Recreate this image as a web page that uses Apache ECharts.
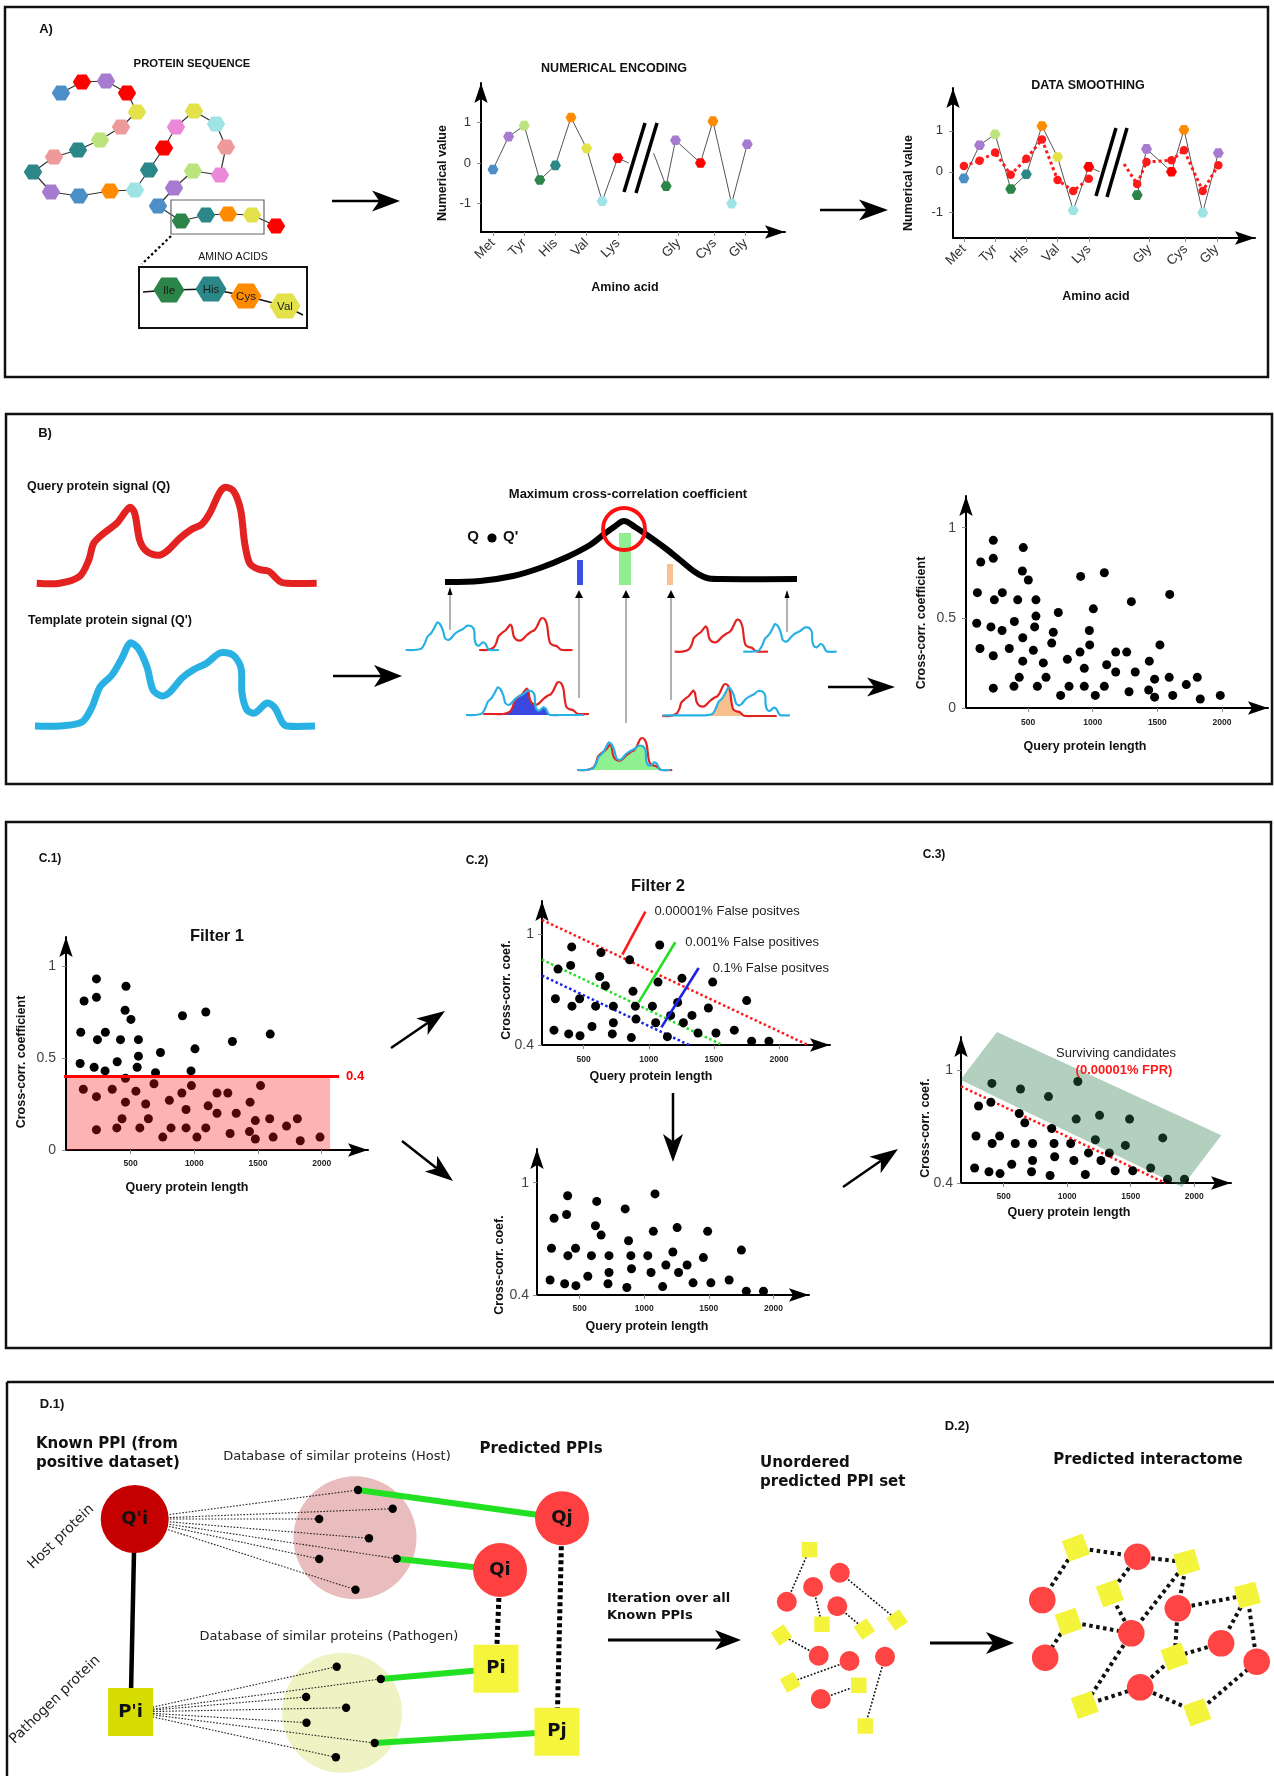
<!DOCTYPE html>
<html>
<head>
<meta charset="utf-8">
<title>Host-pathogen PPI prediction workflow</title>
<script src="https://cdn.jsdelivr.net/npm/echarts@6/dist/echarts.min.js"></script>
<style>
html,body{margin:0;padding:0;background:#fff;}
#chart{width:1274px;height:1776px;}
</style>
</head>
<body>
<div id="chart"></div>
<script>
const FONT = '"Liberation Sans", Arial, Helvetica, sans-serif';
const DJV = '"DejaVu Sans", Verdana, sans-serif';

// ---------- A) residues ----------
const RES_COLOR = {Met:'#4b8fc6', Gly:'#a67bd0', Tyr:'#bde37c', Ile:'#2b8548', His:'#2c8888', Cys:'#ff8c00',
  Val:'#e3e24a', Thr:'#9fe4e4', Lys:'#ff0000', Ala:'#ee9a9a', Pro:'#ec88d8'};
const chainRes = ['Met','Lys','Gly','Lys','Val','Ala','Tyr','His','Ala','His','Gly','Met','Cys','Thr','His',
  'Lys','Pro','Val','Thr','Ala','Pro','Tyr','Gly','Met','Ile','His','Cys','Val','Lys'];
const chainXY = [[61,93],[82,82],[106,81],[127,93],[137,112],[121,127],[100,140],[78,150],[54,157],[33,172],
  [51,192],[79,196],[110,191],[135,190],[149,170],[164,148],[176,127],[194,111],[216,124],[226,147],[220,175],
  [193,171],[174,188],[158,206],[181,221],[206,215],[228,214],[252,215],[276,226]];
const insetRes = ['Ile','His','Cys','Val'];
const insetXY = [[169,290],[211,289],[246,296],[285,306]];

// ---------- A) encoded and smoothed signal ----------
const seqPosA = [0,1,2,3,4,5,6,7,8];
const seqPosB = [11.1,11.7,13.3,14.1,15.3,16.3];
const residuesA = ['Met','Gly','Tyr','Ile','His','Cys','Val','Thr','Lys'];
const residuesB = ['Ile','Gly','Lys','Cys','Thr','Gly'];
const encodedA = [-0.16,0.65,0.92,-0.42,-0.06,1.12,0.36,-0.94,0.12];
const encodedB = [-0.57,0.56,0.0,1.03,-1.0,0.46];
const smoothedA = [0.14,0.27,0.47,-0.07,0.32,0.79,-0.2,-0.47,-0.17];
const smoothedB = [-0.3,0.24,0.28,0.53,-0.47,0.16];
const encStubs = [[8.7,0.0],[10.3,0.24]];
const smoothStub = [10.26,0.19];
const residueTickPos = [0,2,4,6,8,11.9,14.2,16.2];
const residueTickNames = ['Met','Tyr','His','Val','Lys','Gly','Cys','Gly'];
const encYTicks = [-1,0,1];

// ---------- B) signal outlines: [offset along sequence, height] ----------
const querySignal = [[0,0],[23,0],[43,7],[52,23],[57,40],[67,50],[80,60],[93,76],[98,70],[103,43],[110,32],
  [122,28],[130,32],[143,45],[155,54],[165,59],[173,70],[183,91],[189,96],[197,92],[204,73],[208,40],[213,20],
  [222,14],[232,12],[243,2],[250,0],[280,0]];
const templateSignal = [[0,0],[25,0],[47,4],[57,19],[65,39],[77,51],[87,68],[95,83],[103,78],[112,59],[118,36],
  [127,30],[135,34],[147,48],[158,56],[172,63],[185,73],[198,71],[206,58],[207,33],[212,16],[220,13],[232,23],
  [240,18],[247,4],[252,0],[280,0]];
const xcorrCurve = [[445,582],[480,581],[513,576],[540,568],[567,557],[590,545],[603,535],[614,527],[624,521],
  [635,527],[647,535],[665,548],[680,560],[695,572],[707,578],[720,579],[797,579]];

// ---------- B / C.1) all query proteins ----------
const lengthAll = [108,134,231,231,463,456,502,301,239,420,561,734,561,103,213,299,394,551,459,695,128,231,355,541,
  683,618,459,432,639,231,391,572,752,817,804,902,935,935,1020,977,974,1005,907,1090,1090,1108,1178,1178,1263,1329,
  1281,1299,1438,1479,1433,1479,1520,1596,1592,1619,1724,1809,1832,1987];
const ccAll = [0.64,0.81,0.93,0.83,0.89,0.76,0.71,0.64,0.60,0.60,0.60,0.53,0.51,0.47,0.45,0.43,0.48,0.45,0.39,0.42,
  0.33,0.29,0.33,0.32,0.36,0.25,0.26,0.17,0.17,0.11,0.12,0.12,0.07,0.12,0.27,0.31,0.22,0.12,0.07,0.35,0.43,0.55,
  0.73,0.75,0.12,0.24,0.31,0.20,0.31,0.20,0.09,0.59,0.26,0.16,0.10,0.06,0.35,0.63,0.17,0.07,0.13,0.17,0.05,0.07];
const filter1 = 0.4;
const filter1AreaEnd = 2066;
const filter1LineSpan = [-220, 2137];

// ---------- C.2 / C.3) proteins passing filter 1 ----------
const lengthPass = [408,633,303,400,853,1084,623,667,879,1071,1255,1491,283,469,410,592,728,897,1028,1222,1458,
  1752,1168,1332,902,728,1053,1266,272,385,472,564,720,866,1143,1378,1516,1657,1790,1923];
const ccPass = [0.93,0.90,0.81,0.83,0.86,0.94,0.77,0.72,0.69,0.74,0.76,0.74,0.65,0.65,0.61,0.61,0.61,0.61,0.61,0.63,
  0.60,0.64,0.56,0.56,0.54,0.52,0.52,0.52,0.48,0.46,0.45,0.50,0.46,0.44,0.445,0.465,0.465,0.48,0.42,0.42];
const fprNames = ['0.00001% False positves','0.001% False positives','0.1% False positves'];
const fprColors = ['#ff1a1a','#22e022','#1a22e6'];
const fprLines = [[[180,1.076],[2223,0.4]], [[180,0.861],[1565,0.4]], [[180,0.775],[1309,0.4]]];
const fprPointers = [[[797,0.888],[974,1.12]], [[922,0.63],[1204,0.955]], [[1097,0.495],[1383,0.816]]];
const fprLabelGap = [9, 10, 14];
const survivorLine = [[165,0.914],[1773,0.4]];
const survivorBand = [[160,0.95],[448,1.203],[2213,0.654],[1904,0.379]];

// ---------- D) networks ----------
const hostDbDots = [[358,1490],[392.7,1508.7],[319.2,1519],[369,1538.3],[319.2,1559],[396.7,1558.7],[355.5,1589.7]];
const pathDbDots = [[336.7,1666.7],[380.8,1679],[306.1,1697],[346.1,1707.7],[306.5,1722.7],[374.7,1743],[335.9,1757.3]];
const knownHost = {x:134.7, y:1519, r:34, label:"Q'i"};
const knownPath = {x:130.6, y:1712, w:45, h:48, label:"P'i"};
const predHost = [{x:562, y:1518.3, label:'Qj'}, {x:500, y:1570, label:'Qi'}];
const predPath = [{x:496, y:1668.7, label:'Pi'}, {x:557, y:1731.7, label:'Pj'}];
const greenLinks = [[hostDbDots[0], 0, 'h'], [hostDbDots[5], 1, 'h'], [pathDbDots[1], 0, 'p'], [pathDbDots[5], 1, 'p']];

const setCircles = [[786.8,1601.7],[813.1,1587],[839.8,1572.7],[837.3,1606.3],[818.7,1655.7],[849.5,1661],[885,1656.7],[820.8,1699]];
const setSquares = [[809.4,1549.7,0],[822,1624.3,0],[864.4,1629,0.6],[897.2,1620,0.6],[781.5,1635,0.6],[790.4,1682.3,0.5],[858.8,1685.3,0],[865.2,1726,0]];
const setEdges = [[0,0],[1,1],[2,3],[3,2],[4,4],[5,5],[7,6],[6,7]]; // [circle, square]

const netCircles = [[1042.3,1600],[1045.2,1657.7],[1137.4,1556.7],[1131.3,1633.3],[1177.8,1608.3],[1221.1,1643.3],[1140.2,1687.3],[1256.7,1661.7]];
const netSquares = [[1075.9,1547.7,0.35],[1186.7,1562.3,0.28],[1109.9,1593.3,0.35],[1068.6,1621.7,0.33],[1247.4,1595,0.27],[1174.6,1656.7,0.35],[1084.8,1705,0.33],[1197.2,1712.3,0.35]];
const netEdges = [['S',0,'C',2],['S',0,'C',0],['C',2,'S',1],['C',2,'S',2],['S',2,'C',3],['S',1,'C',3],['S',1,'C',4],
  ['C',4,'S',4],['C',4,'S',5],['S',4,'C',5],['S',4,'C',7],['C',5,'S',5],['S',3,'C',1],['S',3,'C',3],['C',3,'S',6],
  ['S',5,'C',6],['S',6,'C',6],['C',6,'S',7],['S',7,'C',7]];

// ================= drawing helpers =================
const G = [];
function line(x1,y1,x2,y2,color,w,dash,cap){ G.push({type:'line', silent:true, shape:{x1,y1,x2,y2}, style:{stroke:color, lineWidth:w, lineDash:dash||null, lineCap:cap||'butt', fill:'none'}}); }
function poly(points, fill, z){ G.push({type:'polygon', silent:true, z:z||0, shape:{points}, style:{fill, stroke:'none'}}); }
function pline(points, color, w, smooth){ G.push({type:'polyline', silent:true, shape:{points, smooth:smooth||0}, style:{stroke:color, lineWidth:w, fill:'none', lineJoin:'round'}}); }
function circ(cx,cy,r,fill,stroke,lw){ G.push({type:'circle', silent:true, shape:{cx,cy,r}, style:{fill:fill||'none', stroke:stroke||'none', lineWidth:lw||0}}); }
function box(x,y,w,h,fill,stroke,lw){ G.push({type:'rect', silent:true, shape:{x,y,width:w,height:h}, style:{fill:fill||'none', stroke:stroke||'none', lineWidth:lw||0}}); }
function sq(cx,cy,s,rot,fill){ G.push({type:'rect', silent:true, x:cx, y:cy, rotation:rot, shape:{x:-s/2,y:-s/2,width:s,height:s}, style:{fill}}); }
function txt(x,y,str,size,o){
  o = o||{};
  const al = o.align||'center';
  G.push({type:'text', silent:true, z:100, x, y, rotation:o.rot||0,
    style:{text:str, x:0, y:0, fill:o.color||'#111', font:(o.bold?'bold ':'')+size+'px '+(o.family||FONT),
      textAlign:al, align:al, textVerticalAlign:'middle', verticalAlign:'middle'}});
}
function arrow(x1,y1,x2,y2,hl,hw,lw){
  const a = Math.atan2(y2-y1, x2-x1), c = Math.cos(a), s = Math.sin(a);
  const bx = x2-hl*c, by = y2-hl*s, nx = x2-hl*0.74*c, ny = y2-hl*0.74*s;
  line(x1,y1,nx,ny,'#000',lw);
  poly([[x2,y2],[bx-hw/2*s, by+hw/2*c],[nx,ny],[bx+hw/2*s, by-hw/2*c]], '#000');
}
function hexPts(cx,cy,r){ const p=[]; for(let k=0;k<6;k++){ const a=Math.PI/3*k; p.push([cx+r*Math.cos(a), cy+r*Math.sin(a)*0.93]); } return p; }
function placeSignal(sig, ox, base, s, from, to){
  const pts = sig.map(([dx,h]) => [ox+dx*s, base-h*s]);
  if (from != null) pts.unshift([from, base]);
  if (to != null) pts.push([to, base]);
  return pts;
}
function interpY(pts, x, base){
  if (x <= pts[0][0] || x >= pts[pts.length-1][0]) return base;
  for (let i=1;i<pts.length;i++){
    if (x <= pts[i][0]) { const [x0,y0]=pts[i-1], [x1,y1]=pts[i]; return x1===x0 ? y1 : y0+(y1-y0)*(x-x0)/(x1-x0); }
  }
  return base;
}
function overlapFill(a, b, base){
  const x0 = Math.max(a[0][0], b[0][0]), x1 = Math.min(a[a.length-1][0], b[b.length-1][0]);
  const pts = [];
  for (let x=x0; x<=x1; x+=0.5) pts.push([x, Math.min(base, Math.max(interpY(a,x,base), interpY(b,x,base)))]);
  pts.push([x1,base],[x0,base]);
  return pts;
}

// ================= panel frames =================
box(5,7,1263,370,'none','#111',2.5);
box(6,414,1266,370,'none','#111',2.5);
box(6,822,1265,526,'none','#111',2.5);
line(7,1382,1274,1382,'#111',2.5);
line(7,1382,7,1776,'#111',2.5);

// ================= A) protein sequence =================
txt(46,29,'A)',13,{bold:true});
txt(192,64,'PROTEIN SEQUENCE',11.3,{bold:true});
pline(chainXY,'#333',1.2);
chainXY.forEach((p,i)=>poly(hexPts(p[0],p[1],9.2), RES_COLOR[chainRes[i]]));
box(171,200,93,34,'none','#666',1.2);
line(171,236,142,264,'#000',2.2,[2.5,2.5]);
txt(233,257,'AMINO ACIDS',10.5);
box(139,267,168,61,'none','#111',2);
pline([[143,292]].concat(insetXY).concat([[303,315]]),'#111',1.5);
insetXY.forEach((p,i)=>{ poly(hexPts(p[0],p[1],15.5), RES_COLOR[insetRes[i]]); txt(p[0],p[1]+1,insetRes[i],11.5,{color:'#1a1a1a'}); });
arrow(332,201,400,201,28,21,2.5);

txt(614,69,'NUMERICAL ENCODING',12.5,{bold:true});
txt(443,173,'Numerical value',12.5,{bold:true, rot:Math.PI/2});
txt(625,288,'Amino acid',12.5,{bold:true});
line(645,123,624,192,'#000',3.5); line(657,123,636,193,'#000',3.5);

arrow(820,210,888,210,29,21,2.5);
txt(1088,86,'DATA SMOOTHING',12.5,{bold:true});
txt(909,183,'Numerical value',12.5,{bold:true, rot:Math.PI/2});
txt(1096,297,'Amino acid',12.5,{bold:true});
line(1116,128,1096,196,'#000',3.5); line(1127,128,1107,197,'#000',3.5);

// ================= B) cross-correlation =================
txt(45,433,'B)',13,{bold:true});
txt(27,487,'Query protein signal (Q)',12.5,{bold:true, align:'left'});
txt(28,621,"Template protein signal (Q')",12.5,{bold:true, align:'left'});
const RED = '#e32322', BLUE = '#29b1e3';
pline(placeSignal(querySignal,36.7,583.3,1),RED,7,0.3);
pline(placeSignal(templateSignal,35,726,1),BLUE,7,0.3);
arrow(333,676,402,676,28,22,2.5);

txt(628,494,'Maximum cross-correlation coefficient',13,{bold:true});
txt(473,537,'Q',15,{bold:true}); circ(492,538,4.6,'#000'); txt(503,537,"Q'",15,{bold:true, align:'left'});
box(577,560,6,25,'#3a50e6'); box(619,533,12,52,'#90ee90'); box(667,564,6,21,'#f9c18e');
pline(xcorrCurve,'#000',6,0.35);
circ(624,529,21,'none','#ff1010',3.8);
function thinArrow(x,y1,y2,hw){ line(x,y1,x,y2+6,'#8a8a8a',1.3); poly([[x,y2],[x-hw/2,y2+8],[x+hw/2,y2+8]],'#000'); }
thinArrow(450,630,587,5); thinArrow(579,698,590,8); thinArrow(626,723,590,8); thinArrow(671,700,590,8); thinArrow(787,632,590,5);

const miniPairs = [
  {q:{ox:479.2, base:650}, t:{ox:405.6, base:650}},
  {q:{ox:674.6, base:651.7}, t:{ox:743.3, base:651.7}},
  {q:{ox:495.6, base:714, from:483.3}, t:{ox:466, base:715, to:584}, fill:'#3b48e0'},
  {q:{ox:662.2, base:716, to:776.7}, t:{ox:696.6, base:715.3, from:662.7}, fill:'#f8c08c'},
  {q:{ox:578.9, base:770}, t:{ox:577, base:770}, fill:'#8ef08e'}
];
miniPairs.forEach(m=>{
  const qp = placeSignal(querySignal, m.q.ox, m.q.base, 1/3, m.q.from, m.q.to);
  const tp = placeSignal(templateSignal, m.t.ox, m.t.base, 1/3, m.t.from, m.t.to);
  if (m.fill) poly(overlapFill(qp, tp, Math.max(m.q.base, m.t.base)), m.fill);
  pline(qp, RED, 2.2, 0.2);
  pline(tp, BLUE, 2.2, 0.2);
});
arrow(828,687,895,687,28,19,2.5);

// ================= C) filters =================
txt(50,859,'C.1)',12,{bold:true});
txt(217,936,'Filter 1',16.5,{bold:true});
txt(22,1062,'Cross-corr. coefficient',12.5,{bold:true, rot:Math.PI/2});
txt(187,1188,'Query protein length',12.5,{bold:true});
arrow(391,1048,445,1011,28,20,2.5);
arrow(402,1141,453,1181,28,20,2.5);

txt(477,861,'C.2)',12,{bold:true});
txt(658,886,'Filter 2',16.5,{bold:true});
txt(507,990,'Cross-corr. coef.',12.5,{bold:true, rot:Math.PI/2});
txt(651,1077,'Query protein length',12.5,{bold:true});
arrow(673,1093,673,1162,28,20,2.5);
txt(500,1265,'Cross-corr. coef.',12.5,{bold:true, rot:Math.PI/2});
txt(647,1327,'Query protein length',12.5,{bold:true});

txt(934,855,'C.3)',12,{bold:true});
arrow(843,1187,898,1149,28,20,2.5);
txt(926,1128,'Cross-corr. coef.',12.5,{bold:true, rot:Math.PI/2});
txt(1069,1213,'Query protein length',12.5,{bold:true});
txt(1116,1053,'Surviving candidates',13,{color:'#222'});
txt(1124,1070,'(0.00001% FPR)',13,{bold:true, color:'#ff1a1a'});

txt(922,623,'Cross-corr. coefficient',12.5,{bold:true, rot:Math.PI/2});
txt(1085,747,'Query protein length',12.5,{bold:true});

// ================= D) interactome =================
txt(52,1404,'D.1)',13,{bold:true});
txt(36,1444,'Known PPI (from',15,{bold:true, align:'left', family:DJV});
txt(36,1463,'positive dataset)',15,{bold:true, align:'left', family:DJV});
txt(61,1537,'Host protein',14,{rot:0.77, family:DJV, color:'#222'});
txt(55,1700,'Pathogen protein',14,{rot:0.77, family:DJV, color:'#222'});
txt(337,1457,'Database of similar proteins (Host)',13,{family:DJV, color:'#222'});
txt(329,1637,'Database of similar proteins (Pathogen)',13,{family:DJV, color:'#222'});
txt(541,1449,'Predicted PPIs',15,{bold:true, family:DJV});

circ(355,1537.7,61.5,'#e9bdbd');
circ(342,1712.7,60,'#eff3c3');
hostDbDots.forEach(p=>line(knownHost.x,knownHost.y,p[0],p[1],'#222',1.1,[1.6,1.6]));
pathDbDots.forEach(p=>line(knownPath.x,knownPath.y,p[0],p[1],'#222',1.1,[1.6,1.6]));
greenLinks.forEach(([d,k,kind])=>{ const n = kind==='h' ? predHost[k] : predPath[k]; line(d[0],d[1],n.x,n.y,'#22e022',6); });
line(knownHost.x,knownHost.y,knownPath.x,knownPath.y,'#000',4.5);
line(predHost[1].x,predHost[1].y,predPath[0].x,predPath[0].y,'#000',5,[4,3]);
line(predHost[0].x,predHost[0].y,predPath[1].x,predPath[1].y,'#000',5,[4,3]);
hostDbDots.concat(pathDbDots).forEach(p=>circ(p[0],p[1],4.2,'#000'));
circ(knownHost.x,knownHost.y,knownHost.r,'#c40000');
txt(knownHost.x,knownHost.y,knownHost.label,18,{bold:true, family:DJV});
box(knownPath.x-knownPath.w/2,knownPath.y-knownPath.h/2,knownPath.w,knownPath.h,'#d6dc00');
txt(knownPath.x,knownPath.y,knownPath.label,18,{bold:true, family:DJV});
predHost.forEach(n=>{ circ(n.x,n.y,27,'#ff4040'); txt(n.x,n.y,n.label,18,{bold:true, family:DJV}); });
predPath.forEach(n=>{ box(n.x-22.5,n.y-24,45,48,'#f5f53d'); txt(n.x,n.y,n.label,18,{bold:true, family:DJV}); });

txt(607,1599,'Iteration over all',13,{bold:true, align:'left', family:DJV});
txt(607,1616,'Known PPIs',13,{bold:true, align:'left', family:DJV});
arrow(608,1640,741,1640,26,20,3);
txt(957,1426,'D.2)',13,{bold:true});
txt(760,1463,'Unordered',15,{bold:true, align:'left', family:DJV});
txt(760,1482,'predicted PPI set',15,{bold:true, align:'left', family:DJV});
txt(1148,1460,'Predicted interactome',15,{bold:true, family:DJV});
arrow(930,1643,1014,1643,28,22,3);

setEdges.forEach(([ci,si])=>{ const c=setCircles[ci], s=setSquares[si]; line(c[0],c[1],s[0],s[1],'#111',1.6,[1.8,1.8]); });
setCircles.forEach(c=>circ(c[0],c[1],10,'#ff4444'));
setSquares.forEach(s=>sq(s[0],s[1],15.5,s[2],'#f4f43c'));
const nodeOf = (k,i) => k==='C' ? netCircles[i] : netSquares[i];
netEdges.forEach(([k1,i1,k2,i2])=>{ const a=nodeOf(k1,i1), b=nodeOf(k2,i2); line(a[0],a[1],b[0],b[1],'#111',4,[3.5,3.5]); });
netCircles.forEach(c=>circ(c[0],c[1],13.3,'#ff4444'));
netSquares.forEach(s=>sq(s[0],s[1],22,s[2],'#f4f43c'));

// ================= charts =================
const ARROW_PATH = 'path://M6,0L12,18L6,14.5L0,18Z';
const axisLineStyle = {onZero:false, lineStyle:{color:'#000', width:2}, symbol:['none', ARROW_PATH], symbolSize:[15,20], symbolOffset:[0,-10]};
function valueAxis(gi, min, max, ticks, label){
  return {type:'value', gridIndex:gi, min, max, axisLine:axisLineStyle,
    axisTick:{show:true, customValues:ticks, length:4, lineStyle:{color:'#8a8a8a', width:1}},
    axisLabel:Object.assign({customValues:ticks, fontFamily:FONT, formatter:v=>String(v)}, label),
    splitLine:{show:false}};
}
const lenTicks = [500,1000,1500,2000];
const xLenLabel = (m)=>({fontSize:8.5, fontWeight:'bold', color:'#222', margin:m});
const yCcLabel = (m)=>({fontSize:14, color:'#444', margin:m});
const resLabel = {rotate:45, fontSize:13.5, color:'#333', margin:9,
  formatter:v=>{ const i = residueTickPos.findIndex(t=>Math.abs(t-v)<1e-6); return i>=0 ? residueTickNames[i] : ''; }};
const encLabel = {fontSize:13, color:'#333', margin:10};

const grids = [
  {left:481, top:83, width:304, height:149},
  {left:953, top:88, width:302, height:150},
  {left:966, top:496, width:302, height:212},
  {left:66, top:937, width:302, height:213},
  {left:542, top:901, width:288, height:144},
  {left:537, top:1149, width:272, height:146},
  {left:961, top:1037, width:270, height:146}
].map(g=>Object.assign({outerBoundsMode:'none', containLabel:false}, g));

const xAxes = [
  valueAxis(0,-0.77,18.72,residueTickPos,resLabel),
  valueAxis(1,-0.7,18.65,residueTickPos,resLabel),
  valueAxis(2,20,2356,lenTicks,xLenLabel(10)),
  valueAxis(3,-8,2364,lenTicks,xLenLabel(9)),
  valueAxis(4,180,2392,lenTicks,xLenLabel(10)),
  valueAxis(5,171,2275,lenTicks,xLenLabel(9)),
  valueAxis(6,165,2289,lenTicks,xLenLabel(9))
];
const yAxes = [
  valueAxis(0,-1.7,1.97,encYTicks,encLabel),
  valueAxis(1,-1.62,2.05,encYTicks,encLabel),
  valueAxis(2,0,1.176,[0,0.5,1],yCcLabel(10)),
  valueAxis(3,0,1.158,[0,0.5,1],yCcLabel(10)),
  valueAxis(4,0.4,1.178,[0.4,1],yCcLabel(8)),
  valueAxis(5,0.4,1.18,[0.4,1],yCcLabel(8)),
  valueAxis(6,0.4,1.177,[0.4,1],yCcLabel(8))
];

const HEX = 'path://M0,8.66L5,0L15,0L20,8.66L15,17.32L5,17.32Z';
const hexData = (pos, vals, res) => pos.map((p,i)=>({value:[p, vals[i]], itemStyle:{color:RES_COLOR[res[i]]}}));
const pairs = (xs, ys) => xs.map((x,i)=>[x, ys[i]]);
const encSeries = (gi, data) => ({type:'line', xAxisIndex:gi, yAxisIndex:gi, data, symbol:HEX, symbolSize:[11,9.6],
  showSymbol:true, lineStyle:{color:'#555', width:1}, itemStyle:{opacity:1}, z:3, silent:true});
const smoothSeries = (data) => ({type:'line', xAxisIndex:1, yAxisIndex:1, data, symbol:'circle', symbolSize:8.5,
  itemStyle:{color:'#ff1a1a', opacity:1}, lineStyle:{color:'#ff1a1a', width:3, type:[3,3]}, z:4, silent:true});
const dots = (gi, xs, ys) => ({type:'scatter', xAxisIndex:gi, yAxisIndex:gi, data:pairs(xs,ys), symbolSize:9,
  itemStyle:{color:'#000', opacity:1}, z:3, silent:true});

const series = [
  encSeries(0, hexData(seqPosA,encodedA,residuesA).concat([{value:encStubs[0], symbol:'none'}])),
  encSeries(0, [{value:encStubs[1], symbol:'none'}].concat(hexData(seqPosB,encodedB,residuesB))),
  encSeries(1, hexData(seqPosA,encodedA,residuesA).concat([{value:encStubs[0], symbol:'none'}])),
  encSeries(1, hexData(seqPosB,encodedB,residuesB)),
  smoothSeries(pairs(seqPosA,smoothedA)),
  smoothSeries([{value:smoothStub, symbol:'none'}].concat(pairs(seqPosB,smoothedB))),
  dots(2, lengthAll, ccAll),
  dots(3, lengthAll, ccAll),
  {type:'line', xAxisIndex:3, yAxisIndex:3, data:[[0,filter1],[filter1AreaEnd,filter1]], symbol:'none',
    lineStyle:{width:0}, areaStyle:{color:'rgba(242,19,19,0.32)', origin:'start', opacity:1}, z:4, silent:true},
  {type:'line', xAxisIndex:3, yAxisIndex:3, data:filter1LineSpan.map(x=>[x,filter1]), symbol:'none', clip:false,
    lineStyle:{color:'#ff0000', width:3}, z:5, silent:true,
    endLabel:{show:true, formatter:String(filter1), color:'#ff0000', fontWeight:'bold', fontSize:13, fontFamily:FONT, distance:7}},
  dots(4, lengthPass, ccPass),
  dots(5, lengthPass, ccPass),
  dots(6, lengthPass, ccPass),
  {type:'line', xAxisIndex:6, yAxisIndex:6, data:survivorLine, symbol:'none', lineStyle:{color:'#ff1a1a', width:2.5, type:[2.5,2.5]}, z:2, silent:true},
  {type:'custom', xAxisIndex:6, yAxisIndex:6, data:[0], z:6, silent:true,
    renderItem:(params, api)=>({type:'polygon', shape:{points:survivorBand.map(p=>api.coord(p))}, style:{fill:'rgba(45,122,74,0.36)'}})}
];
fprLines.forEach((ln,i)=>series.push({type:'line', xAxisIndex:4, yAxisIndex:4, data:ln, symbol:'none',
  lineStyle:{color:fprColors[i], width:2.5, type:[2.5,2.5]}, z:2, silent:true}));
fprPointers.forEach((ln,i)=>series.push({type:'line', xAxisIndex:4, yAxisIndex:4, data:ln, symbol:'none', clip:false,
  lineStyle:{color:fprColors[i], width:2.6}, z:4, silent:true,
  endLabel:{show:true, formatter:fprNames[i], color:'#222', fontSize:13, fontFamily:FONT, distance:fprLabelGap[i]}}));

const chart = echarts.init(document.getElementById('chart'), null, {renderer:'canvas', width:1274, height:1776});
chart.setOption({
  animation:false,
  backgroundColor:'#fff',
  textStyle:{fontFamily:FONT},
  grid:grids, xAxis:xAxes, yAxis:yAxes, series,
  graphic:{elements:G}
});
</script>
</body>
</html>
